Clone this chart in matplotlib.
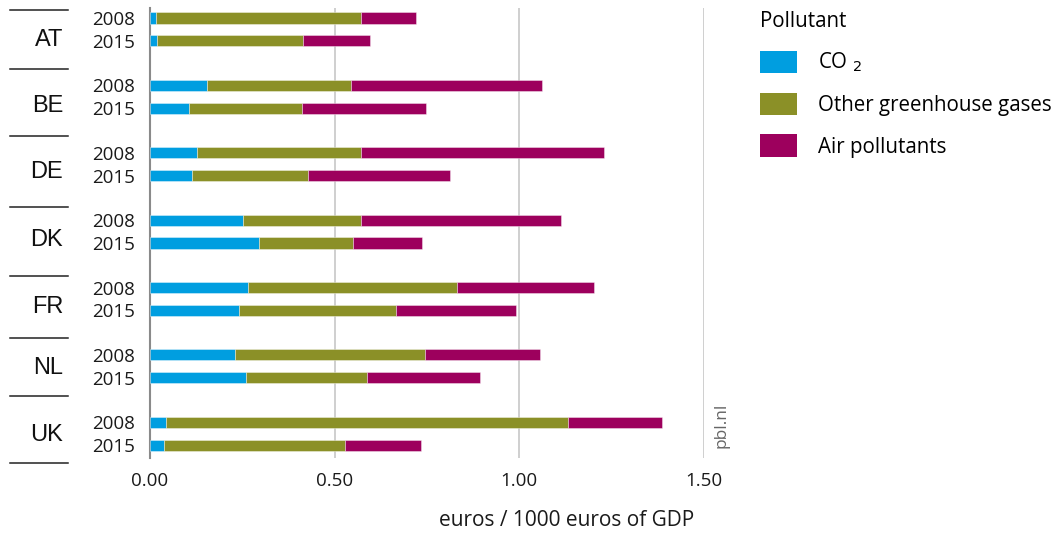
import numpy as np
import matplotlib.pyplot as plt
from matplotlib.patches import Patch
from matplotlib.transforms import blended_transform_factory

countries = ["AT", "BE", "DE", "DK", "FR", "NL", "UK"]
years = ["2008", "2015"]

# values per country: [2008, 2015]
co2 = [[0.016, 0.020], [0.154, 0.105], [0.128, 0.114], [0.253, 0.294],
       [0.265, 0.242], [0.229, 0.259], [0.042, 0.039]]
other_ghg = [[0.554, 0.393], [0.389, 0.307], [0.444, 0.314], [0.319, 0.256],
             [0.567, 0.425], [0.515, 0.328], [1.089, 0.488]]
air = [[0.150, 0.183], [0.518, 0.336], [0.656, 0.384], [0.540, 0.186],
       [0.369, 0.323], [0.312, 0.306], [0.255, 0.207]]

series = ["CO $_2$", "Other greenhouse gases", "Air pollutants"]
colors = ["#009ee0", "#8b9027", "#9d005d"]

plt.rcParams["font.family"] = ["Open Sans", "DejaVu Sans"]

fig = plt.figure(figsize=(10.59, 5.35), dpi=100)
ax = fig.add_axes([150 / 1059, 1 - 458 / 535, 554 / 1059, 450 / 535])

n = len(countries)
g = np.arange(n)
y2008 = g
y2015 = g + 0.34
ypos = np.concatenate([y2008, y2015])

vals = [np.array(co2), np.array(other_ghg), np.array(air)]
left = np.zeros(2 * n)
for v, col in zip(vals, colors):
    w = np.concatenate([v[:, 0], v[:, 1]])
    ax.barh(ypos, w, left=left, height=0.165, color=col,
            edgecolor=(1, 1, 1, 0.45), linewidth=0.6, zorder=3)
    left += w

ax.set_xlim(0, 1.5)
ax.set_ylim(6.53, -0.148)
ax.set_xticks([0, 0.5, 1.0, 1.5])
ax.set_xticklabels(["0.00", "0.50", "1.00", "1.50"], fontsize=13.5)
ax.set_yticks(ypos)
ax.set_yticklabels([years[0]] * n + [years[1]] * n, fontsize=13.5)
ax.tick_params(axis="both", length=0, colors="#1a1a1a")
ax.tick_params(axis="y", pad=10.5)
ax.tick_params(axis="x", pad=10)
ax.grid(axis="x", color="#cccccc", linewidth=1.3, zorder=0)
for s in ["top", "right", "bottom"]:
    ax.spines[s].set_visible(False)
ax.spines["left"].set_color("#8a8a8a")
ax.spines["left"].set_linewidth(1.5)

# country labels and separators
trans = blended_transform_factory(ax.transAxes, ax.transData)
label_y = [0.32, 1.31, 2.28, 3.29, 4.29, 5.19, 6.19]
for c, yy in zip(countries, label_y):
    ax.text(-0.157, yy, c, transform=trans, ha="right", va="center",
            fontsize=17, family="Liberation Sans", color="#111111")
seps = [-0.12, 0.75, 1.75, 2.80, 3.83, 4.75, 5.61, 6.60]
for s in seps:
    ax.plot([-0.2527, -0.148], [s, s], transform=trans, color="#222222",
            linewidth=1.1, clip_on=False)

ax.text(1.031, 6.04, "pbl.nl", transform=trans, rotation=90,
        ha="center", va="center", fontsize=12.5, color="#666666")

fig.text(567 / 1059, 1 - 521 / 535, "euros / 1000 euros of GDP",
         ha="center", va="center", fontsize=15, color="#1a1a1a")

handles = [Patch(facecolor=c, edgecolor="none") for c in colors]
leg = fig.legend(handles, series, loc="upper left",
                 bbox_to_anchor=(760 / 1059, 1 - 11 / 535), frameon=False,
                 title="Pollutant", fontsize=14.8, title_fontsize=14.8,
                 handlelength=1.8, handleheight=1.31, labelspacing=0.90,
                 handletextpad=1.0, borderpad=0, borderaxespad=0,
                 alignment="left")

fig.savefig("out.png", dpi=100)
